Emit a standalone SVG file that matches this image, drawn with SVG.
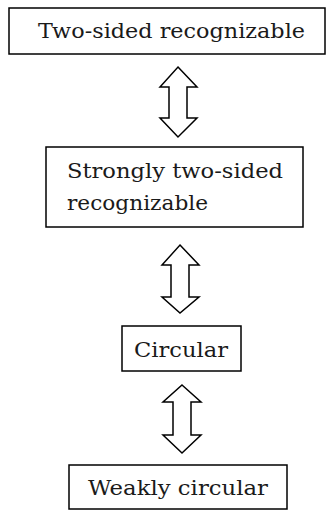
<svg xmlns="http://www.w3.org/2000/svg" width="327" height="511" viewBox="0 0 327 511">
<style>
.box{fill:#fff;stroke:#000;stroke-width:1.5}
.arr{fill:#fff;stroke:#000;stroke-width:1.5;stroke-linejoin:miter}
.t{font-family:'DejaVu Serif',serif;font-size:21px;fill:#1a1a1a}
</style>
<rect width="327" height="511" fill="#fff"/>
<g id="n1">
<rect class="box" x="9" y="8" width="316" height="46"/>
<text class="t" x="38" y="38" textLength="267" lengthAdjust="spacingAndGlyphs">Two-sided recognizable</text>
</g>
<g id="n2">
<rect class="box" x="46" y="147" width="257" height="80"/>
<text class="t" x="67" y="178" textLength="216" lengthAdjust="spacingAndGlyphs">Strongly two-sided</text>
<text class="t" x="67" y="210" textLength="141" lengthAdjust="spacingAndGlyphs">recognizable</text>
</g>
<g id="n3">
<rect class="box" x="122" y="326" width="119" height="45"/>
<text class="t" x="134" y="357" textLength="94" lengthAdjust="spacingAndGlyphs">Circular</text>
</g>
<g id="n4">
<rect class="box" x="69" y="465" width="218" height="44"/>
<text class="t" x="88" y="495" textLength="180" lengthAdjust="spacingAndGlyphs">Weakly circular</text>
</g>
<g id="connectors">
<path class="arr" d="M178,67 L197,87 L187,87 L187,118 L197,118 L178,137 L160,118 L169,118 L169,87 L160,87 Z"/>
<path class="arr" d="M180,245 L199,265 L189,265 L189,297 L199,297 L180,313 L162,297 L171,297 L171,265 L162,265 Z"/>
<path class="arr" d="M182,385 L201,402 L191,402 L191,435 L201,435 L182,453 L163,435 L173,435 L173,402 L163,402 Z"/>
</g>
</svg>
